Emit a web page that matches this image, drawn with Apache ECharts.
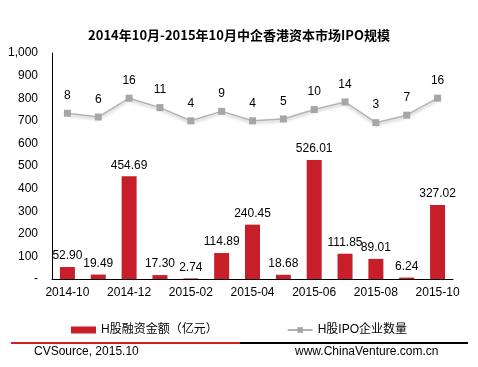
<!DOCTYPE html>
<html><head><meta charset="utf-8">
<script src="https://cdn.jsdelivr.net/npm/echarts@6/dist/echarts.min.js"></script>
<style>html,body{margin:0;padding:0;background:#fff}#c{width:478px;height:367px}</style>
</head><body><div id="c"></div>
<script>
var categories = ['2014-10','2014-11','2014-12','2015-01','2015-02','2015-03','2015-04','2015-05','2015-06','2015-07','2015-08','2015-09','2015-10'];
var amount = [52.90, 19.49, 454.69, 17.30, 2.74, 114.89, 240.45, 18.68, 526.01, 111.85, 89.01, 6.24, 327.02];
var ipoCount = [8, 6, 16, 11, 4, 9, 4, 5, 10, 14, 3, 7, 16];
var yTicks = [0, 100, 200, 300, 400, 500, 600, 700, 800, 900, 1000];

var FONT = '"Liberation Sans", Arial, "Noto Sans CJK SC", sans-serif';
var chart = echarts.init(document.getElementById('c'), null, {renderer: 'canvas'});
chart.setOption({
  animation: false,
  backgroundColor: '#fff',
  textStyle: {fontFamily: FONT},
  title: {
    text: '2014年10月-2015年10月中企香港资本市场IPO规模',
    left: 'center', top: 24,
    textStyle: {fontSize: 13, fontWeight: 'bold', color: '#000', fontFamily: '"Noto Sans CJK SC", sans-serif'}
  },
  grid: {left: 52, right: 25, top: 53, bottom: 88},
  legend: {
    bottom: 26, left: 66, itemGap: 69, itemWidth: 25, itemHeight: 7,
    textStyle: {fontSize: 12, color: '#000', fontFamily: FONT},
    data: [{name: 'H股融资金额（亿元）', icon: 'rect'}, {name: 'H股IPO企业数量'}]
  },
  xAxis: {
    type: 'category', data: categories,
    axisLine: {lineStyle: {color: '#000', width: 1}},
    axisTick: {show: false},
    axisLabel: {interval: 1, color: '#000', fontSize: 12, margin: 8}
  },
  yAxis: [{
    type: 'value', min: 0, max: 1000, interval: 100,
    axisLine: {show: true, lineStyle: {color: '#000'}},
    axisTick: {show: false},
    splitLine: {show: false},
    axisLabel: {color: '#000', fontSize: 12, margin: 14,
      formatter: function (v) { return v === 0 ? '-' : v.toLocaleString('en-US'); }}
  }, {
    type: 'value', min: -80, max: 40, show: false, splitLine: {show: false}
  }],
  series: [{
    name: 'H股融资金额（亿元）', type: 'bar', data: amount, barWidth: 15,
    itemStyle: {color: '#C81E2A'},
    label: {show: true, position: 'top', color: '#000', fontSize: 12, distance: 5,
      formatter: function (p) { return p.value.toFixed(2); }}
  }, {
    name: 'H股IPO企业数量', type: 'line', yAxisIndex: 1, data: ipoCount,
    symbol: 'rect', symbolSize: 7,
    lineStyle: {color: '#B4B4B4', width: 1.5, shadowBlur: 3, shadowColor: 'rgba(0,0,0,0.25)', shadowOffsetY: 2},
    itemStyle: {color: '#A6A6A6'},
    label: {show: true, position: 'top', color: '#000', fontSize: 12, distance: 8}
  }],
  graphic: [
    {type: 'rect', shape: {x: 11, y: 342, width: 229, height: 2}, style: {fill: '#D0202A'}},
    {type: 'rect', shape: {x: 240, y: 342, width: 228, height: 2}, style: {fill: '#000'}},
    {type: 'text', left: 34, top: 346, style: {text: 'CVSource, 2015.10', fontSize: 12, fill: '#000', fontFamily: FONT}},
    {type: 'text', left: 295, top: 346, style: {text: 'www.ChinaVenture.com.cn', fontSize: 12, fill: '#000', fontFamily: FONT}}
  ]
});
</script></body></html>
